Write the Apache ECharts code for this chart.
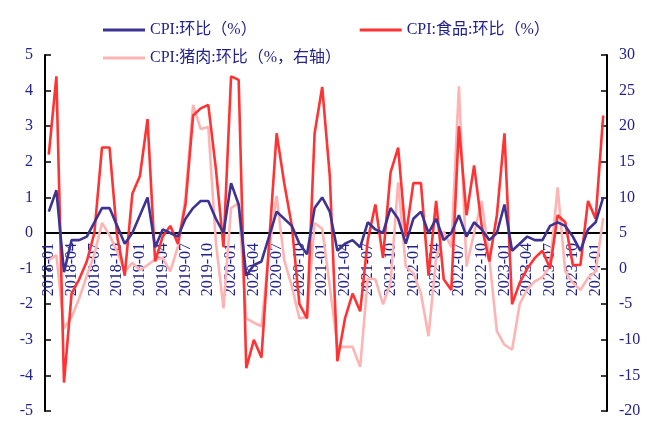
<!DOCTYPE html>
<html>
<head>
<meta charset="utf-8">
<script src="https://cdn.jsdelivr.net/npm/echarts@6/dist/echarts.min.js"></script>
<style>
html,body{margin:0;padding:0;background:#fff;}
#chart{width:665px;height:430px;}
</style>
</head>
<body>
<div id="chart"></div>
<script>
const categories = [
 '2018-01','2018-02','2018-03','2018-04','2018-05','2018-06','2018-07','2018-08','2018-09','2018-10','2018-11','2018-12',
 '2019-01','2019-02','2019-03','2019-04','2019-05','2019-06','2019-07','2019-08','2019-09','2019-10','2019-11','2019-12',
 '2020-01','2020-02','2020-03','2020-04','2020-05','2020-06','2020-07','2020-08','2020-09','2020-10','2020-11','2020-12',
 '2021-01','2021-02','2021-03','2021-04','2021-05','2021-06','2021-07','2021-08','2021-09','2021-10','2021-11','2021-12',
 '2022-01','2022-02','2022-03','2022-04','2022-05','2022-06','2022-07','2022-08','2022-09','2022-10','2022-11','2022-12',
 '2023-01','2023-02','2023-03','2023-04','2023-05','2023-06','2023-07','2023-08','2023-09','2023-10','2023-11','2023-12',
 '2024-01','2024-02'
];

const cpiMoM = [
 0.6, 1.2, -1.1, -0.2, -0.2, -0.1, 0.3, 0.7, 0.7, 0.2, -0.3, 0.0,
 0.5, 1.0, -0.4, 0.1, 0.0, -0.1, 0.4, 0.7, 0.9, 0.9, 0.4, 0.0,
 1.4, 0.8, -1.2, -0.9, -0.8, -0.1, 0.6, 0.4, 0.2, -0.3, -0.6, 0.7,
 1.0, 0.6, -0.5, -0.3, -0.2, -0.4, 0.3, 0.1, 0.0, 0.7, 0.4, -0.3,
 0.4, 0.6, 0.0, 0.4, -0.2, 0.0, 0.5, -0.1, 0.3, 0.1, -0.2, 0.0,
 0.8, -0.5, -0.3, -0.1, -0.2, -0.2, 0.2, 0.3, 0.2, -0.1, -0.5, 0.1,
 0.3, 1.0
];

const foodMoM = [
 2.2, 4.4, -4.2, -1.7, -1.3, -0.8, 0.0, 2.4, 2.4, -0.1, -1.2, 1.1,
 1.6, 3.2, -0.8, -0.1, 0.2, -0.3, 0.8, 3.3, 3.5, 3.6, 1.8, -0.4,
 4.4, 4.3, -3.8, -3.0, -3.5, -0.3, 2.8, 1.4, 0.2, -2.0, -2.4, 2.8,
 4.1, 1.6, -3.6, -2.4, -1.7, -2.2, -0.2, 0.8, -0.7, 1.7, 2.4, -0.1,
 1.4, 1.4, -1.2, 0.9, -1.3, -1.6, 3.0, 0.5, 1.9, 0.2, -0.8, 0.5,
 2.8, -2.0, -1.4, -1.0, -0.7, -0.5, -1.0, 0.5, 0.3, -0.9, -0.9, 0.9,
 0.4, 3.3
];

const porkMoM = [
 1.2, 1.9, -8.4, -6.8, -4.2, -1.0, 2.0, 6.4, 4.7, 2.4, -0.4, 0.8,
 -0.2, 0.5, 1.3, 1.5, -0.4, 3.1, 10.0, 23.0, 19.6, 19.9, 3.7, -5.6,
 8.5, 9.2, -7.0, -7.6, -8.1, 2.5, 10.2, 1.2, -2.5, -7.0, -6.8, 6.4,
 5.6, -2.5, -11.0, -11.0, -11.0, -13.8, -1.4, -1.5, -5.0, -2.0, 12.1, 0.3,
 -0.6, -3.5, -9.5, 1.5, 5.2, 3.0, 25.6, 0.3, 5.0, 9.5, 1.5, -8.8,
 -10.7, -11.4, -5.0, -2.9, -1.8, -1.2, 0.3, 11.4, -0.4, -2.0, -3.0, -1.3,
 -0.4, 7.1
];

const seriesNames = ['CPI:环比（%）', 'CPI:食品:环比（%）', 'CPI:猪肉:环比（%，右轴）'];
const leftTicks = { min: -5, max: 5, interval: 1 };
const rightTicks = { min: -20, max: 30, interval: 5 };

const navy = '#22228c';
const serif = '"Liberation Serif","Times New Roman","Noto Sans CJK SC",serif';

const gridTop = 55, gridBottom = 19, H = 430;
const plotH = H - gridTop - gridBottom;
// move the category axis up to the zero line of the left axis
const zeroOffset = -plotH * (0 - leftTicks.min) / (leftTicks.max - leftTicks.min);

const chart = echarts.init(document.getElementById('chart'), null, { renderer: 'canvas' });
chart.setOption({
  animation: false,
  backgroundColor: '#fff',
  legend: [
    {
      data: [seriesNames[0], seriesNames[1]],
      left: 98, top: 17,
      icon: 'rect', itemWidth: 42, itemHeight: 3, itemGap: 103,
      textStyle: { color: navy, fontSize: 16, fontFamily: serif }
    },
    {
      data: [seriesNames[2]],
      left: 98, top: 45,
      icon: 'rect', itemWidth: 42, itemHeight: 3,
      textStyle: { color: navy, fontSize: 16, fontFamily: serif }
    }
  ],
  grid: { left: 45, right: 58, top: gridTop, bottom: gridBottom, containLabel: false, outerBoundsMode: 'none' },
  xAxis: {
    type: 'category',
    data: categories,
    boundaryGap: true,
    offset: zeroOffset,
    axisLine: { onZero: false, lineStyle: { color: '#000', width: 2 } },
    axisTick: { inside: true, length: 5, interval: 2, lineStyle: { color: '#000', width: 1.5 } },
    axisLabel: { interval: 2, rotate: 90, margin: 10, color: navy, fontSize: 16, fontFamily: serif },
    splitLine: { show: false }
  },
  yAxis: [
    {
      type: 'value', min: leftTicks.min, max: leftTicks.max, interval: leftTicks.interval,
      axisLine: { show: true, onZero: false, lineStyle: { color: '#000', width: 2 } },
      axisTick: { show: true, inside: true, length: 6, lineStyle: { color: '#000', width: 1.5 } },
      axisLabel: { color: navy, fontSize: 16, fontFamily: serif, margin: 12 },
      splitLine: { show: false }
    },
    {
      type: 'value', min: rightTicks.min, max: rightTicks.max, interval: rightTicks.interval,
      position: 'right',
      axisLine: { show: true, onZero: false, lineStyle: { color: '#000', width: 2 } },
      axisTick: { show: true, inside: true, length: 6, lineStyle: { color: '#000', width: 1.5 } },
      axisLabel: { color: navy, fontSize: 16, fontFamily: serif, margin: 12 },
      splitLine: { show: false }
    }
  ],
  series: [
    {
      name: seriesNames[2], type: 'line', yAxisIndex: 1, data: porkMoM,
      symbol: 'none', z: 1,
      lineStyle: { color: '#ffb4b4', width: 2.6 }, itemStyle: { color: '#ffb4b4' }
    },
    {
      name: seriesNames[1], type: 'line', yAxisIndex: 0, data: foodMoM,
      symbol: 'none', z: 2,
      lineStyle: { color: '#ff3333', width: 2.6 }, itemStyle: { color: '#ff3333' }
    },
    {
      name: seriesNames[0], type: 'line', yAxisIndex: 0, data: cpiMoM,
      symbol: 'none', z: 3,
      lineStyle: { color: '#3d3393', width: 2.6 }, itemStyle: { color: '#3d3393' }
    }
  ]
});
</script>
</body>
</html>
